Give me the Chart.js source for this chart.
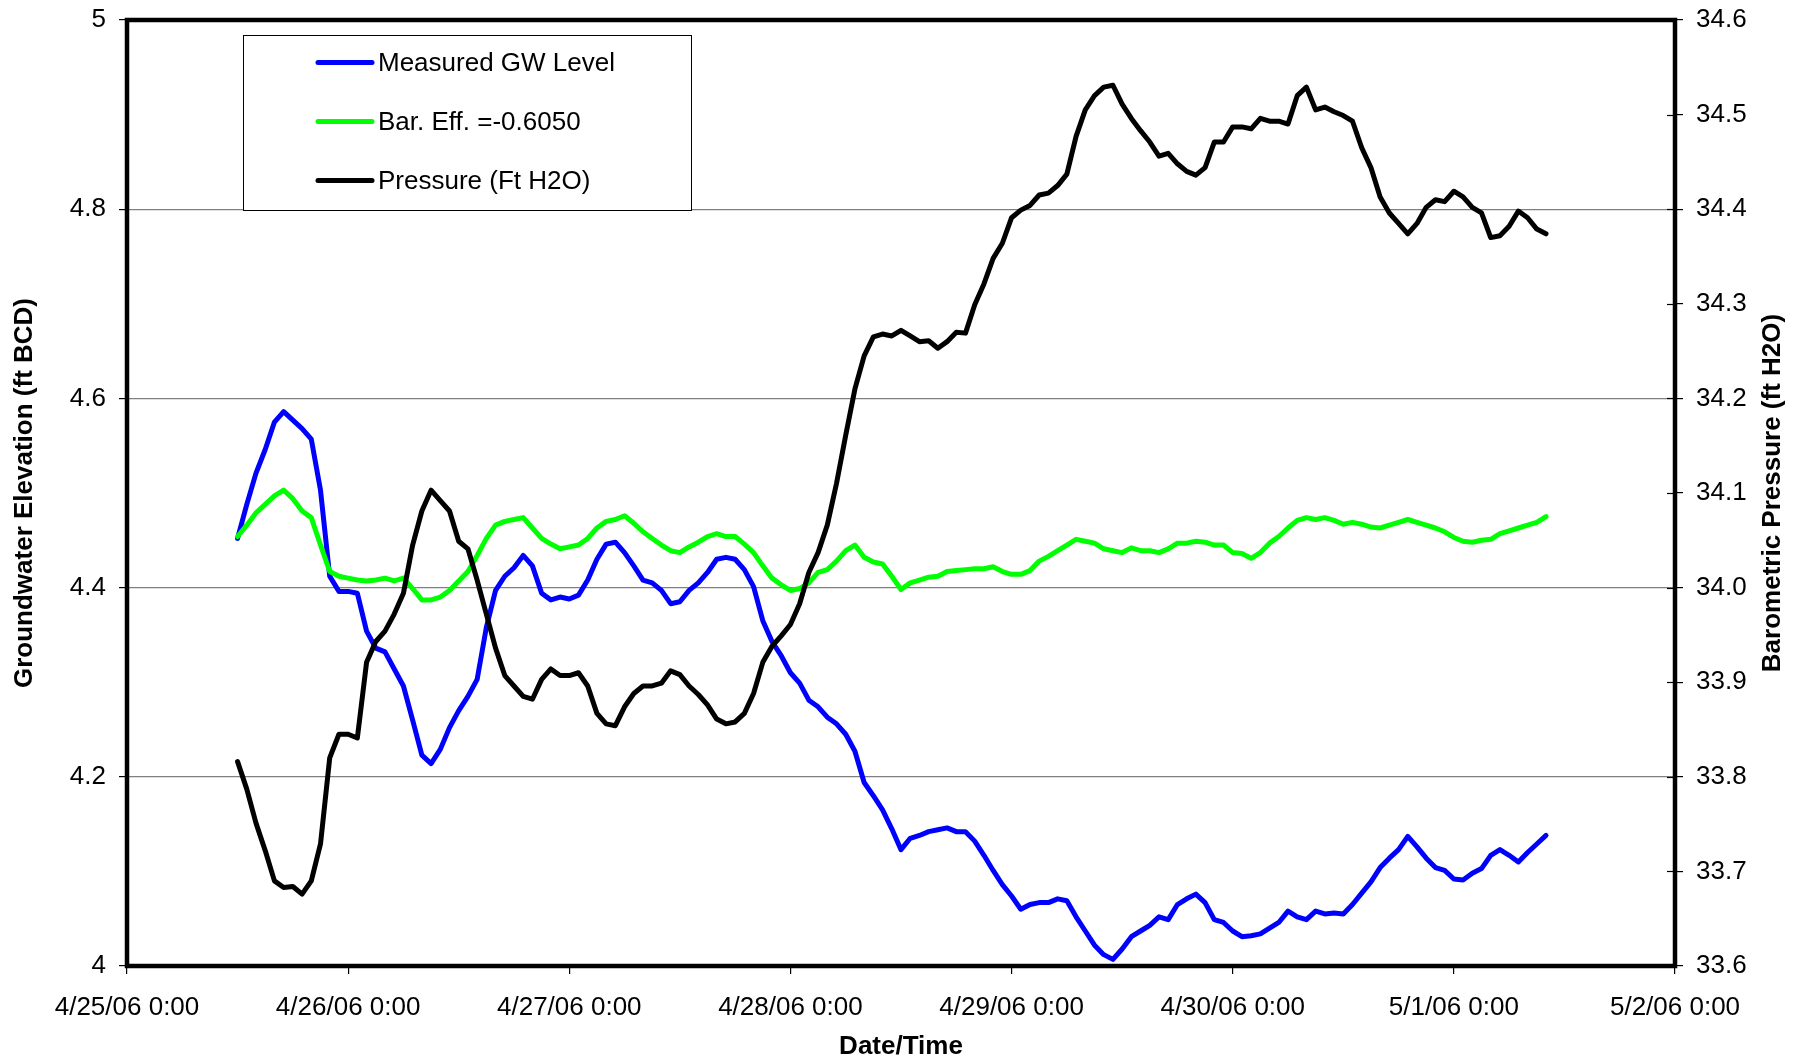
<!DOCTYPE html>
<html>
<head>
<meta charset="utf-8">
<title>Groundwater Elevation vs Barometric Pressure</title>
<script src="https://cdn.jsdelivr.net/npm/chart.js@4.4.1/dist/chart.umd.min.js"></script>
<style>
  html, body { margin: 0; padding: 0; background: #fff; }
  #wrap { width: 1809px; height: 1064px; }
</style>
</head>
<body>
<div id="wrap"><canvas id="chart" width="1809" height="1064"></canvas></div>
<script>
// Hours since 4/25/06 0:00 (hourly readings)
const hours = [];
for (let h = 12; h <= 154; h++) hours.push(h);

const xTickLabels = ['4/25/06 0:00', '4/26/06 0:00', '4/27/06 0:00', '4/28/06 0:00',
                     '4/29/06 0:00', '4/30/06 0:00', '5/1/06 0:00', '5/2/06 0:00'];

const seriesNames = ['Measured GW Level', 'Bar. Eff. =-0.6050', 'Pressure (Ft H2O)'];

// Measured GW Level (ft BCD), left axis
const gwLevel = [
  4.452, 4.488, 4.521, 4.546, 4.575, 4.586, 4.577, 4.568, 4.557, 4.503,
  4.412, 4.396, 4.396, 4.394, 4.354, 4.336, 4.332, 4.314, 4.296, 4.260,
  4.223, 4.214, 4.229, 4.252, 4.270, 4.285, 4.303, 4.358, 4.397, 4.412,
  4.421, 4.434, 4.423, 4.394, 4.387, 4.390, 4.388, 4.392, 4.408, 4.430,
  4.446, 4.448, 4.437, 4.423, 4.408, 4.405, 4.397, 4.383, 4.385, 4.397,
  4.405, 4.416, 4.430, 4.432, 4.430, 4.419, 4.401, 4.365, 4.343, 4.328,
  4.310, 4.299, 4.281, 4.274, 4.263, 4.256, 4.245, 4.227, 4.194, 4.180,
  4.165, 4.145, 4.123, 4.135, 4.138, 4.142, 4.144, 4.146, 4.142, 4.142,
  4.132, 4.117, 4.101, 4.086, 4.074, 4.060, 4.065, 4.067, 4.067, 4.071,
  4.069, 4.052, 4.037, 4.022, 4.012, 4.007, 4.018, 4.031, 4.037, 4.043,
  4.052, 4.049, 4.065, 4.071, 4.076, 4.067, 4.049, 4.046, 4.037, 4.031,
  4.032, 4.034, 4.040, 4.046, 4.058, 4.052, 4.049, 4.058, 4.055, 4.056,
  4.055, 4.065, 4.077, 4.089, 4.104, 4.114, 4.123, 4.137, 4.126, 4.114,
  4.104, 4.101, 4.092, 4.091, 4.098, 4.103, 4.117, 4.123, 4.117, 4.110,
  4.120, 4.129, 4.138
];

// Barometric-efficiency corrected level, left axis
const barEff = [
  4.454, 4.466, 4.479, 4.488, 4.497, 4.503, 4.494, 4.481, 4.474, 4.445,
  4.417, 4.412, 4.410, 4.408, 4.407, 4.408, 4.410, 4.407, 4.410, 4.399,
  4.387, 4.387, 4.390, 4.397, 4.407, 4.417, 4.434, 4.452, 4.466, 4.470,
  4.472, 4.474, 4.463, 4.452, 4.446, 4.441, 4.443, 4.445, 4.452, 4.463,
  4.470, 4.472, 4.476, 4.468, 4.459, 4.452, 4.445, 4.439, 4.437, 4.443,
  4.448, 4.454, 4.457, 4.454, 4.454, 4.446, 4.437, 4.423, 4.410, 4.403,
  4.397, 4.399, 4.405, 4.416, 4.419, 4.428, 4.439, 4.445, 4.432, 4.427,
  4.425, 4.412, 4.398, 4.405, 4.408, 4.411, 4.412, 4.417, 4.418, 4.419,
  4.420, 4.420, 4.422, 4.417, 4.414, 4.414, 4.418, 4.428, 4.433, 4.439,
  4.445, 4.451, 4.449, 4.447, 4.441, 4.439, 4.437, 4.442, 4.439, 4.439,
  4.437, 4.441, 4.447, 4.447, 4.449, 4.448, 4.445, 4.445, 4.437, 4.436,
  4.431, 4.437, 4.447, 4.454, 4.463, 4.471, 4.474, 4.472, 4.474, 4.471,
  4.467, 4.469, 4.467, 4.464, 4.463, 4.466, 4.469, 4.472, 4.469, 4.466,
  4.463, 4.459, 4.453, 4.449, 4.448, 4.450, 4.451, 4.457, 4.460, 4.463,
  4.466, 4.469, 4.475
];

// Barometric pressure (ft H2O), right axis
const pressure = [
  33.816, 33.787, 33.751, 33.722, 33.690, 33.683, 33.684, 33.676, 33.690, 33.729,
  33.820, 33.845, 33.845, 33.841, 33.921, 33.943, 33.954, 33.972, 33.994, 34.045,
  34.081, 34.103, 34.092, 34.081, 34.049, 34.041, 34.008, 33.972, 33.936, 33.907,
  33.896, 33.885, 33.882, 33.903, 33.914, 33.907, 33.907, 33.910, 33.896, 33.867,
  33.856, 33.854, 33.874, 33.888, 33.896, 33.896, 33.899, 33.912, 33.908, 33.896,
  33.887, 33.876, 33.861, 33.856, 33.858, 33.867, 33.888, 33.921, 33.938, 33.949,
  33.961, 33.983, 34.016, 34.037, 34.066, 34.110, 34.161, 34.210, 34.245, 34.265,
  34.268, 34.266, 34.272, 34.266, 34.260, 34.261, 34.253, 34.260, 34.270, 34.269,
  34.299, 34.321, 34.348, 34.364, 34.391, 34.399, 34.404, 34.415, 34.417, 34.425,
  34.437, 34.477, 34.505, 34.520, 34.529, 34.531, 34.511, 34.496, 34.483, 34.471,
  34.456, 34.459, 34.448, 34.440, 34.436, 34.444, 34.471, 34.471, 34.487, 34.487,
  34.485, 34.496, 34.493, 34.493, 34.490, 34.520, 34.529, 34.505, 34.508, 34.503,
  34.499, 34.493, 34.465, 34.444, 34.413, 34.396, 34.385, 34.374, 34.385, 34.402,
  34.410, 34.408, 34.419, 34.413, 34.402, 34.396, 34.370, 34.372, 34.382, 34.398,
  34.391, 34.379, 34.374
];

const FONT = '"Liberation Sans", Arial, sans-serif';

function toPoints(values) {
  return values.map((v, i) => ({ x: hours[i], y: v }));
}

// fixed width for the vertical axes, no extra room for overflowing labels
function fixVertical(width) {
  return (scale) => {
    scale.width = width;
    scale.paddingTop = 0;
    scale.paddingBottom = 0;
  };
}

// frame, inner ticks of the right axis, legend box and axis titles
const decorations = {
  id: 'decorations',
  afterDatasetsDraw(chart) {
    const ctx = chart.ctx;
    const a = chart.chartArea;
    ctx.save();

    // right axis ticks also reach into the plot
    ctx.strokeStyle = '#000';
    ctx.lineWidth = 1.2;
    chart.scales.y1.ticks.forEach(t => {
      const py = Math.round(chart.scales.y1.getPixelForValue(t.value)) + 0.5;
      ctx.beginPath();
      ctx.moveTo(a.right - 8, py);
      ctx.lineTo(a.right, py);
      ctx.stroke();
    });

    // thick plot frame
    ctx.lineWidth = 4.5;
    ctx.strokeRect(a.left, a.top, a.right - a.left, a.bottom - a.top);

    // legend
    const box = { x: 243, y: 35, w: 448, h: 175 };
    ctx.fillStyle = '#fff';
    ctx.fillRect(box.x, box.y, box.w, box.h);
    ctx.lineWidth = 1;
    ctx.strokeRect(box.x + 0.5, box.y + 0.5, box.w, box.h);
    const rows = [62.5, 121.5, 180.5];
    ctx.font = '26px ' + FONT;
    ctx.textBaseline = 'middle';
    ctx.textAlign = 'left';
    chart.data.datasets.forEach((ds, i) => {
      ctx.strokeStyle = ds.borderColor;
      ctx.lineWidth = 5;
      ctx.lineCap = 'round';
      ctx.beginPath();
      ctx.moveTo(318, rows[i]);
      ctx.lineTo(372, rows[i]);
      ctx.stroke();
      ctx.fillStyle = '#000';
      ctx.fillText(ds.label, 378, rows[i] + 1);
    });

    // axis titles
    const midY = (a.top + a.bottom) / 2;
    ctx.font = 'bold 26px ' + FONT;
    ctx.fillStyle = '#000';
    ctx.textAlign = 'center';
    ctx.textBaseline = 'middle';
    ctx.fillText('Date/Time', (a.left + a.right) / 2, 1047);

    ctx.save();
    ctx.translate(25, midY);
    ctx.rotate(-Math.PI / 2);
    ctx.fillText('Groundwater Elevation (ft BCD)', 0, 0);
    ctx.restore();

    ctx.save();
    ctx.translate(1773, midY);
    ctx.rotate(-Math.PI / 2);
    ctx.fillText('Barometric Pressure (ft H2O)', 0, 0);
    ctx.restore();

    ctx.restore();
  }
};

new Chart(document.getElementById('chart'), {
  type: 'line',
  data: {
    datasets: [{
      label: seriesNames[0],
      data: toPoints(gwLevel),
      borderColor: '#0000ff',
      borderWidth: 5,
      yAxisID: 'y',
      order: 3
    }, {
      label: seriesNames[1],
      data: toPoints(barEff),
      borderColor: '#00ff00',
      borderWidth: 5,
      yAxisID: 'y',
      order: 2
    }, {
      label: seriesNames[2],
      data: toPoints(pressure),
      borderColor: '#000000',
      borderWidth: 5,
      yAxisID: 'y1',
      order: 1
    }]
  },
  options: {
    responsive: false,
    devicePixelRatio: 1,
    animation: false,
    layout: { padding: { top: 20, left: 0, right: 0, bottom: 0 } },
    elements: {
      point: { radius: 0 },
      line: { tension: 0, borderJoinStyle: 'round', borderCapStyle: 'round' }
    },
    plugins: {
      legend: { display: false },
      tooltip: { enabled: false }
    },
    scales: {
      x: {
        type: 'linear',
        min: 0,
        max: 168,
        afterBuildTicks: (scale) => {
          scale.ticks = xTickLabels.map((t, i) => ({ value: i * 24 }));
        },
        afterFit: (scale) => { scale.height = 98; },
        ticks: {
          autoSkip: false,
          maxRotation: 0,
          padding: 18,
          color: '#000',
          font: { family: FONT, size: 26 },
          callback: (value, index) => xTickLabels[index]
        },
        grid: { drawOnChartArea: false, tickLength: 8, tickColor: '#000', lineWidth: 1.2 },
        border: { display: false }
      },
      y: {
        position: 'left',
        min: 4,
        max: 5,
        afterFit: fixVertical(127),
        ticks: {
          stepSize: 0.2,
          padding: 13,
          color: '#000',
          font: { family: FONT, size: 26 },
          callback: (value) => String(Math.round(value * 10) / 10)
        },
        grid: {
          color: (ctx) => (ctx.tick && (ctx.tick.value === 4 || ctx.tick.value === 5)) ? 'rgba(0,0,0,0)' : '#808080',
          lineWidth: 1.2,
          tickLength: 8,
          tickColor: '#000'
        },
        border: { display: false }
      },
      y1: {
        position: 'right',
        min: 33.6,
        max: 34.6,
        afterFit: fixVertical(134),
        ticks: {
          stepSize: 0.1,
          padding: 13,
          color: '#000',
          font: { family: FONT, size: 26 },
          callback: (value) => value.toFixed(1)
        },
        grid: { drawOnChartArea: false, tickLength: 8, tickColor: '#000', lineWidth: 1.2 },
        border: { display: false }
      }
    }
  },
  plugins: [decorations]
});
</script>
</body>
</html>
